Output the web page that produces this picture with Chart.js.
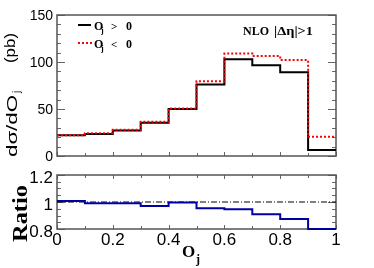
<!DOCTYPE html>
<html><head><meta charset="utf-8">
<script src="https://cdn.jsdelivr.net/npm/chart.js@4"></script>
<style>
html,body{margin:0;padding:0;background:#fff;}
#wrap{position:relative;width:374px;height:268px;background:#fff;}
canvas{position:absolute;left:0;top:0;}
</style></head><body>
<div id="wrap"><canvas id="topChart" width="374" height="268"></canvas><canvas id="ratioChart" width="374" height="268"></canvas></div>
<script>
// ---- data ----
const binEdges = [0, 0.1, 0.2, 0.3, 0.4, 0.5, 0.6, 0.7, 0.8, 0.9, 1.0];
const positiveOj = [22, 23.5, 27, 35.5, 50, 76, 103, 96.5, 89, 6.5];     // O_j > 0
const negativeOj = [22, 24.2, 27.8, 36.5, 50.5, 79.5, 109, 106.3, 102, 20.5]; // O_j < 0
const ratioValues = [1.007, 0.99, 0.99, 0.97, 0.997, 0.953, 0.946, 0.91, 0.874, 0.8];
const referenceRatio = [1, 1];
const topYTicks = [0, 50, 100, 150];
const ratioYTicks = [0.8, 1, 1.2];
const xTicks = [0, 0.2, 0.4, 0.6, 0.8, 1];
const legendSigns = ['>', '<'];

function steps(values) {
  const pts = values.map((v, i) => ({x: binEdges[i], y: v}));
  pts.push({x: binEdges[binEdges.length - 1], y: values[values.length - 1]});
  return pts;
}

function txt(ctx, s, x, y, font, o) {
  o = o || {};
  ctx.save();
  ctx.translate(x, y);
  if (o.rot) ctx.rotate(o.rot);
  ctx.font = font;
  ctx.fillStyle = o.color || '#000';
  ctx.textAlign = o.align || 'left';
  ctx.textBaseline = o.base || 'alphabetic';
  if (o.len) { const w = ctx.measureText(s).width; ctx.scale(o.len / w, 1); }
  ctx.fillText(s, 0, 0);
  const w = ctx.measureText(s).width * (o.len ? 1 : 1);
  ctx.restore();
  return w;
}

function framePlugin(cfg) {
  return {
    id: 'frame_' + cfg.name,
    beforeDatasetsDraw(chart) {
      const ctx = chart.ctx, a = chart.chartArea, xs = chart.scales.x, ys = chart.scales.y;
      ctx.save();
      ctx.strokeStyle = '#666';
      ctx.lineWidth = 1;
      ctx.beginPath();
      // y ticks (left and right, inward)
      for (let k = 0; k <= cfg.yN; k++) {
        const v = cfg.yMin + k * cfg.yStep;
        const py = Math.round(ys.getPixelForValue(v)) + 0.5;
        const len = (k % cfg.yMajEvery === 0) ? 8 : 4;
        ctx.moveTo(a.left, py); ctx.lineTo(a.left + len, py);
        ctx.moveTo(a.right, py); ctx.lineTo(a.right - len, py);
      }
      // x ticks
      for (let k = 0; k <= 10; k++) {
        const px = Math.round(xs.getPixelForValue(k / 10)) + 0.5;
        const len = (k % 2 === 0) ? 4 : 3;
        ctx.moveTo(px, a.bottom); ctx.lineTo(px, a.bottom - len);
        if (cfg.xTop) { ctx.moveTo(px, a.top); ctx.lineTo(px, a.top + len); }
      }
      ctx.stroke();
      ctx.lineWidth = 1.5;
      ctx.strokeStyle = '#555';
      ctx.strokeRect(a.left, a.top, a.right - a.left, a.bottom - a.top);
      ctx.restore();
    }
  };
}

const textPluginTop = {
  id: 'texts_top',
  afterDraw(chart) {
    const ctx = chart.ctx;
    // legend
    ctx.save();
    ctx.lineWidth = 2;
    ctx.strokeStyle = '#000';
    ctx.beginPath(); ctx.moveTo(78, 25); ctx.lineTo(91, 25); ctx.stroke();
    ctx.strokeStyle = '#ff0000'; ctx.setLineDash([2, 2]);
    ctx.beginPath(); ctx.moveTo(78, 43); ctx.lineTo(92, 43); ctx.stroke();
    ctx.restore();
    const rows = [29.5, 47.5];
    rows.forEach((yb, i) => {
      txt(ctx, 'O', 94, yb, 'bold 12px "Liberation Serif"');
      txt(ctx, 'j', 101, yb + 3, 'bold 8px "Liberation Serif"');
      txt(ctx, legendSigns[i], 111, yb, 'bold 11px "Liberation Serif"');
      txt(ctx, '0', 126, yb, 'bold 12px "Liberation Serif"');
    });
    // NLO label
    txt(ctx, 'NLO', 243, 35, 'bold 12px "Liberation Serif"', {len: 26});
    txt(ctx, '|\u0394\u03B7|>1', 274, 35, 'bold 12px "Liberation Serif"', {len: 39});
    // y title
    const R = -Math.PI / 2;
    txt(ctx, 'd\u03C3/dO', 17, 157, '14px "Liberation Sans"', {rot: R, len: 62});
    txt(ctx, 'j', 20, 93, '10px "Liberation Sans"', {rot: R});
    txt(ctx, '(pb)', 15, 63, '14px "Liberation Sans"', {rot: R, len: 30});
  }
};

const textPluginRatio = {
  id: 'texts_ratio',
  afterDraw(chart) {
    const ctx = chart.ctx;
    txt(ctx, 'Ratio', 27, 242, 'bold 20px "Liberation Serif"', {rot: -Math.PI / 2, len: 57});
    txt(ctx, 'O', 182, 257, 'bold 17px "Liberation Serif"');
    txt(ctx, 'j', 196, 263, 'bold 12px "Liberation Serif"');
  }
};

Chart.defaults.font.family = '"Liberation Sans", Arial, sans-serif';
Chart.defaults.color = '#000';

function yScale(min, max, ticks, size, offset) {
  return {
    type: 'linear', min: min, max: max,
    afterFit(s) { s.width = 57; s.paddingTop = 0; s.paddingBottom = 0; },
    afterBuildTicks(s) { s.ticks = ticks.map(v => ({value: v})); },
    grid: {display: false, drawTicks: false},
    border: {display: false},
    ticks: {padding: 4, color: '#000', labelOffset: offset, font: {size: size}, callback: v => String(v)}
  };
}

new Chart(document.getElementById('topChart'), {
  type: 'line',
  data: {
    datasets: [
      {data: steps(negativeOj), stepped: true, borderColor: '#ff0000', borderWidth: 2, borderDash: [2, 2], pointRadius: 0, fill: false, order: 0},
      {data: steps(positiveOj), stepped: true, borderColor: '#000000', borderWidth: 2, pointRadius: 0, fill: false, order: 1}
    ]
  },
  options: {
    responsive: false, animation: false, events: [],
    layout: {padding: {left: 0, top: 15, right: 38, bottom: 112}},
    plugins: {legend: {display: false}, tooltip: {enabled: false}},
    scales: {
      x: {type: 'linear', min: 0, max: 1, display: false},
      y: yScale(0, 150, topYTicks, 14, 1)
    }
  },
  plugins: [framePlugin({name: 'top', yMin: 0, yStep: 10, yN: 15, yMajEvery: 5, xTop: false}), textPluginTop]
});

new Chart(document.getElementById('ratioChart'), {
  type: 'line',
  data: {
    datasets: [
      {data: steps(ratioValues), stepped: true, borderColor: '#0000a0', borderWidth: 2, pointRadius: 0, fill: false, order: 0, clip: false},
      {data: [{x: 0, y: referenceRatio[0]}, {x: 1, y: referenceRatio[1]}], borderColor: '#000', borderWidth: 1, borderDash: [6, 2, 1, 2], pointRadius: 0, fill: false, order: 1}
    ]
  },
  options: {
    responsive: false, animation: false, events: [],
    layout: {padding: {left: 0, top: 175, right: 38, bottom: 0}},
    plugins: {legend: {display: false}, tooltip: {enabled: false}},
    scales: {
      x: {
        type: 'linear', min: 0, max: 1,
        afterFit(s) { s.height = 39; s.paddingLeft = 0; s.paddingRight = 0; },
        afterBuildTicks(s) { s.ticks = xTicks.map(v => ({value: v})); },
        grid: {display: false, drawTicks: false},
        border: {display: false},
        ticks: {padding: 1, maxRotation: 0, autoSkip: false, color: '#000', font: {size: 17}, callback: v => String(v)}
      },
      y: yScale(0.8, 1.2, ratioYTicks, 17, 3)
    }
  },
  plugins: [framePlugin({name: 'ratio', yMin: 0.8, yStep: 0.05, yN: 8, yMajEvery: 4, xTop: true}), textPluginRatio]
});
</script>
</body></html>
